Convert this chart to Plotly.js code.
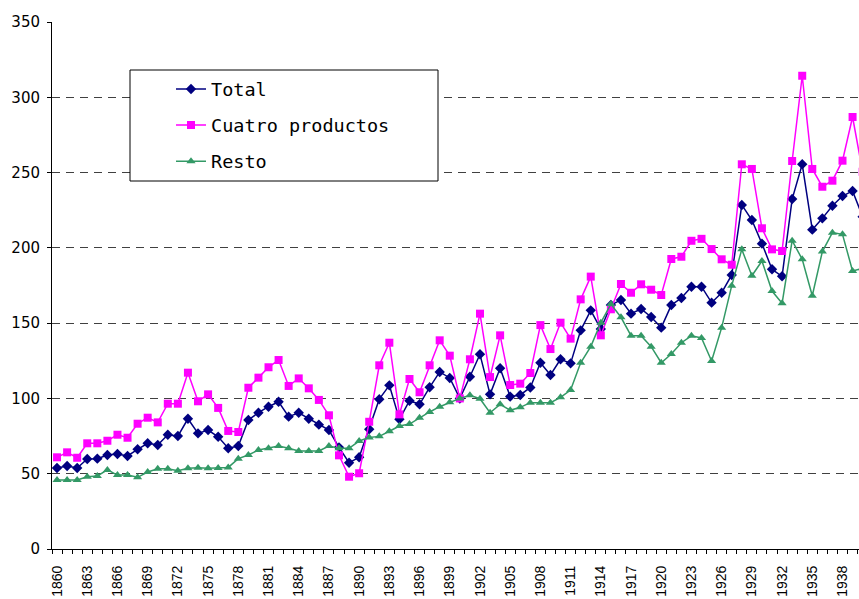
<!DOCTYPE html>
<html>
<head>
<meta charset="utf-8">
<script src="https://cdn.plot.ly/plotly-3.0.1.min.js"></script>
<style>html,body{margin:0;padding:0;background:#fff}#chart{width:859px;height:599px}</style>
</head>
<body>
<div id="chart"></div>
<script>
const years = [];
for (let y = 1860; y <= 1940; y++) years.push(y);

const tickYears = [1860,1863,1866,1869,1872,1875,1878,1881,1884,1887,1890,1893,1896,1899,1902,1905,1908,1911,1914,1917,1920,1923,1926,1929,1932,1935,1938];
const tickLabels = tickYears.map(String);

const total = [
  53.8,55.1,53.8,59.8,60.0,62.4,63.1,61.8,66.2,70.2,69.1,75.9,75.0,86.5,76.8,79.0,74.5,
  66.9,68.4,85.7,90.5,94.5,97.8,87.9,90.5,86.5,82.6,79.0,67.5,57.3,60.9,79.5,99.5,
  108.7,86.1,98.5,96.1,107.4,117.6,113.6,100.0,114.4,129.3,102.7,120.0,101.2,102.3,107.3,123.7,
  115.6,126.0,123.3,145.2,158.5,146.1,162.0,165.4,156.3,159.4,154.1,147.0,162.0,166.7,174.2,174.2,
  163.6,170.2,182.0,228.5,218.5,202.8,185.8,181.1,232.4,255.5,212.1,219.6,228.0,234.4,237.8,220.7
];
const cuatro = [
  60.9,64.2,60.6,70.2,70.2,71.9,75.9,73.9,83.2,87.2,84.1,96.5,96.5,117.1,98.1,102.7,93.7,
  78.4,77.7,107.1,113.8,120.7,125.5,108.3,113.3,106.7,99.0,88.8,62.2,48.0,50.3,84.5,122.0,
  137.0,89.4,112.9,104.1,122.0,138.6,128.4,100.0,126.0,156.3,114.2,141.9,108.9,109.8,116.9,148.7,
  132.8,150.3,139.7,165.8,180.9,141.9,159.2,176.0,170.2,175.8,172.2,168.7,192.6,194.1,204.7,206.0,
  199.2,192.4,188.8,255.5,252.4,213.0,199.0,197.9,257.7,314.3,252.4,240.6,244.6,257.9,286.9,250.5
];
const resto = [
  45.8,45.8,45.8,48.0,48.5,52.5,49.1,49.1,47.6,51.1,53.3,53.3,52.0,53.6,54.0,53.6,53.8,
  54.2,60.0,62.4,65.7,66.9,68.4,66.9,65.1,65.1,65.1,68.4,66.9,66.9,71.7,74.0,74.8,
  78.2,81.7,83.0,87.2,91.0,94.5,97.4,100.0,102.1,99.8,90.5,96.1,92.1,94.1,97.2,97.2,
  97.2,100.7,105.6,123.7,134.4,150.3,162.7,153.9,141.7,141.7,134.4,123.7,129.5,137.0,141.6,140.2,
  124.9,147.0,174.9,199.0,181.5,191.3,171.3,163.2,204.8,192.4,168.2,197.5,210.1,209.0,184.6,186.4
];

const names = ["Total", "Cuatro productos", "Resto"];
const colors = ["#000080", "#FF00FF", "#339966"];
const symbols = ["diamond", "square", "triangle-up"];
const sizes = [8, 8, 8];
const series = [total, cuatro, resto];

const traces = series.map((vals, i) => ({
  x: years, y: vals, name: names[i], type: "scatter", mode: "lines+markers",
  line: {color: colors[i], width: 1.5},
  marker: {symbol: symbols[i], size: sizes[i], color: colors[i]},
  legendgroup: "g" + i, cliponaxis: true
}));

const W = 859, H = 599, L = 52, T = 22, B = 50;
const pw = W - L, ph = H - T - B;
const px2x = p => (p - L) / pw;
const py2y = p => (H - B - p) / ph;

const layout = {
  width: W, height: H,
  margin: {l: L, r: 0, t: T, b: B, pad: 0, autoexpand: false},
  paper_bgcolor: "#fff", plot_bgcolor: "#fff",
  font: {family: "Liberation Sans, Arial, sans-serif", size: 14, color: "#000"},
  showlegend: true,
  legend: {
    x: px2x(171), y: py2y(70.5), xanchor: "left", yanchor: "top",
    bgcolor: "rgba(0,0,0,0)", borderwidth: 0,
    font: {family: "DejaVu Sans Mono, Liberation Mono, monospace", size: 18.5, color: "#000"},
    tracegroupgap: 9
  },
  xaxis: {
    range: [1859.5, 1859.5 + pw / 10.07],
    tickmode: "array", tickvals: tickYears, ticktext: tickLabels,
    tickangle: -90, ticks: "outside", ticklen: 4, tickcolor: "rgba(0,0,0,0)",
    ticklabelstandoff: 6,
    showgrid: false, zeroline: false,
    showline: true, linecolor: "#000", linewidth: 1,
    minor: {tick0: 1859.5, dtick: 1, ticks: "outside", ticklen: 4, tickcolor: "#000", showgrid: false},
    tickfont: {family: "Liberation Sans, Arial, sans-serif", size: 14, color: "#000"},
    fixedrange: true, automargin: false
  },
  yaxis: {
    range: [0, 350], tickvals: [0,50,100,150,200,250,300,350],
    ticks: "outside", ticklen: 4, tickcolor: "#000",
    showgrid: true, gridcolor: "#404040", gridwidth: 1, griddash: "8px,6px",
    zeroline: false, showline: true, linecolor: "#000", linewidth: 1,
    tickfont: {family: "DejaVu Sans, Verdana, sans-serif", size: 15, color: "#000"},
    ticklabelstandoff: 4, fixedrange: true, automargin: false
  },
  shapes: [{
    type: "rect", xref: "paper", yref: "paper", layer: "above",
    x0: px2x(130), x1: px2x(438), y0: py2y(181), y1: py2y(70),
    line: {color: "#000", width: 1}, fillcolor: "#fff"
  }]
};

Plotly.newPlot("chart", traces, layout, {displayModeBar: false, staticPlot: true});
</script>
</body>
</html>
